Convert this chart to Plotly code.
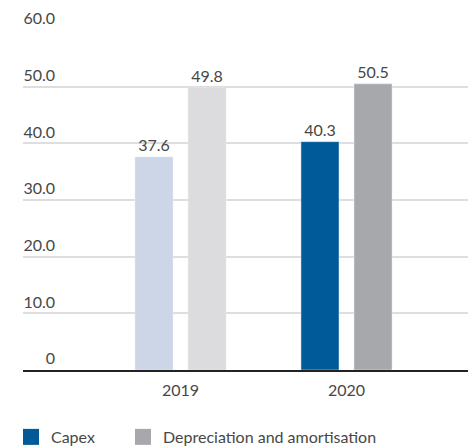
import plotly.graph_objects as go

years = ["2019", "2020"]
capex = [37.6, 40.3]
depreciation = [49.8, 50.5]
capex_colors = ["#cdd6e6", "#005a9a"]
dep_colors = ["#dcdcde", "#a7a8ac"]
series_names = ["Capex", "Depreciation and amortisation"]
legend_colors = ["#005a9a", "#a7a8ac"]
y_ticks = [0, 10, 20, 30, 40, 50, 60]
y_tick_text = ["0", "10.0", "20.0", "30.0", "40.0", "50.0", "60.0"]

FONT = "Lato"
TXT = "#474747"

fig = go.Figure()
for name, vals, cols in [(series_names[0], capex, capex_colors),
                         (series_names[1], depreciation, dep_colors)]:
    fig.add_trace(go.Bar(
        name=name, x=years, y=vals, marker_color=cols,
        texttemplate="%{y:.1f}", textposition="outside", cliponaxis=False,
        textfont=dict(family=FONT, size=16, color=TXT), showlegend=False,
    ))

# legend swatches (16px squares), one legend per entry for exact placement
for i, (name, col) in enumerate(zip(series_names, legend_colors)):
    fig.add_trace(go.Scatter(
        name=name, x=[None], y=[None], mode="markers",
        marker=dict(symbol="square", size=16, color=col),
        legend="legend" if i == 0 else "legend2", showlegend=True,
    ))

leg_common = dict(
    orientation="h", y=-0.147, yanchor="top",
    font=dict(family=FONT, size=16, color=TXT), itemwidth=30,
    bgcolor="rgba(0,0,0,0)",
)

fig.update_layout(
    width=468, height=448,
    margin=dict(l=23, r=0, t=30, b=78, autoexpand=False),
    paper_bgcolor="white", plot_bgcolor="white",
    barmode="group", bargap=0.361, bargroupgap=0.283,
    font=dict(family=FONT, size=16, color=TXT),
    legend=dict(x=-0.027, xanchor="left", **leg_common),
    legend2=dict(x=0.2247, xanchor="left", **leg_common),
    xaxis=dict(
        type="category", categoryorder="array", categoryarray=years,
        range=[-0.949, 1.732],
        showline=True, linecolor="#222222", linewidth=2,
        ticks="", showgrid=False, ticklabelstandoff=5,
        tickfont=dict(family=FONT, size=16, color=TXT),
    ),
    yaxis=dict(
        range=[0, 60], tickvals=y_ticks, ticktext=y_tick_text,
        showgrid=True, gridcolor="#dedede", gridwidth=1.5,
        zeroline=False, showline=False, ticks="",
        ticklabelposition="outside top", ticklabelstandoff=-33,
        tickfont=dict(family=FONT, size=16, color=TXT),
    ),
)

fig.write_html("out.html")
